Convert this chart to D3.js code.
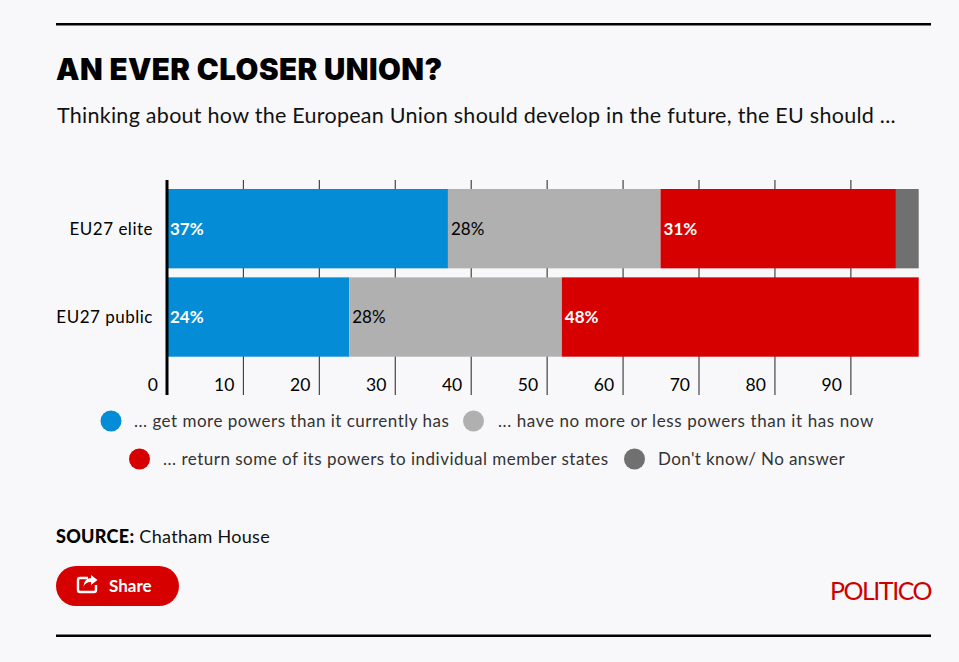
<!DOCTYPE html>
<html>
<head>
<meta charset="utf-8">
<script src="https://cdn.jsdelivr.net/npm/d3@7"></script>
<style>
html, body { margin: 0; padding: 0; background: #f8f8fa; }
svg { display: block; font-family: Lato, sans-serif; }
</style>
</head>
<body>
<div id="chart"></div>
<script>
// Data
const categories = ["EU27 elite", "EU27 public"];
const answers = ["more", "same", "return", "dontKnow"];
const moreValues = [37, 24];
const sameValues = [28, 28];
const returnValues = [31, 48];
const dontKnowValues = [3, 0];
const tickValues = [10, 20, 30, 40, 50, 60, 70, 80, 90];
const answerColors = ["#058cd6", "#b0b0b0", "#d60000", "#707070"];
const labelColors = ["#fff", "#000", "#fff", "none"];
const legendLabels = [
    "... get more powers than it currently has",
    "... have no more or less powers than it has now",
    "... return some of its powers to individual member states",
    "Don't know/ No answer"
];

const width = 959;
const height = 662;

const svg = d3.select("#chart").append("svg")
    .attr("width", width)
    .attr("height", height);

// the bars stop at 99 on the tick scale, even the row that adds up to 100
const x = d3.scaleLinear().domain([0, 99]).range([167, 918.7]).clamp(true);
const y = d3.scaleBand().domain(categories).range([189, 356.7]).paddingInner(0.102);

// Rules
svg.append("rect").attr("x", 56).attr("y", 23).attr("width", 875).attr("height", 2.5).attr("fill", "#000");
svg.append("rect").attr("x", 56).attr("y", 634.5).attr("width", 875).attr("height", 2.5).attr("fill", "#000");

// Heading
svg.append("text").attr("x", 56).attr("y", 80)
    .attr("font-family", "Inter, sans-serif")
    .attr("font-size", 29.5).attr("font-weight", 900).attr("fill", "#000")
    .attr("letter-spacing", 0.45)
    .text("AN EVER CLOSER UNION?");
svg.append("text").attr("x", 57).attr("y", 123)
    .attr("font-size", 21.5).attr("fill", "#111")
    .attr("letter-spacing", 0.27)
    .text("Thinking about how the European Union should develop in the future, the EU should ...");

// Ticks, behind the bars
const xAxis = d3.axisBottom(x).tickValues(tickValues).tickSize(215).tickSizeOuter(0);
const axisG = svg.append("g").attr("transform", "translate(0,180)").call(xAxis);
axisG.select(".domain").remove();
axisG.selectAll(".tick line").attr("stroke", "#444").attr("stroke-width", 1.2);
axisG.selectAll(".tick text")
    .attr("y", 211).attr("dy", 0).attr("x", -9)
    .attr("text-anchor", "end")
    .attr("font-family", "Lato, sans-serif")
    .attr("font-size", 17.5).attr("fill", "#000");

svg.append("text").attr("x", 158).attr("y", 391)
    .attr("text-anchor", "end").attr("font-size", 17.5).attr("fill", "#000")
    .text("0");

// Stacked bars
const rows = categories.map((c, i) => ({
    category: c,
    more: moreValues[i],
    same: sameValues[i],
    return: returnValues[i],
    dontKnow: dontKnowValues[i]
}));
const series = d3.stack().keys(answers)(rows);

const groups = svg.selectAll(".series").data(series).enter().append("g")
    .attr("class", "series");

groups.selectAll("rect")
    .data((d, i) => d.map(p => ({ p: p, i: i })))
    .enter().append("rect")
    .attr("x", d => x(d.p[0]))
    .attr("y", d => y(d.p.data.category))
    .attr("width", d => x(d.p[1]) - x(d.p[0]))
    .attr("height", y.bandwidth())
    .attr("fill", d => answerColors[d.i]);

groups.selectAll("text")
    .data((d, i) => d.map(p => ({ p: p, i: i })).filter(d => d.i < 3))
    .enter().append("text")
    .attr("x", d => x(d.p[0]) + 3)
    .attr("y", d => y(d.p.data.category) + y.bandwidth() / 2 + 6)
    .attr("font-size", 17)
    .attr("font-weight", d => d.i == 1 ? 400 : 700)
    .attr("fill", d => labelColors[d.i])
    .text(d => (d.p[1] - d.p[0]) + "%");

// Category labels
svg.selectAll(".cat").data(categories).enter().append("text")
    .attr("class", "cat")
    .attr("x", 153)
    .attr("y", d => y(d) + y.bandwidth() / 2 + 6)
    .attr("text-anchor", "end")
    .attr("font-size", 17).attr("fill", "#000")
    .attr("letter-spacing", 0.5)
    .text(d => d);

// Axis line on top
svg.append("line")
    .attr("x1", x(0)).attr("x2", x(0)).attr("y1", 180).attr("y2", 395)
    .attr("stroke", "#000").attr("stroke-width", 3);

// Legend
const legendX = [111, 473.5, 139.5, 634.5];
const legendTextX = [134, 498, 163, 658];
const legendY = [421, 421, 459, 459];
const legendSpacing = [0.5, 0.6, 0.5, 0.4];
const legend = svg.selectAll(".legend").data(legendLabels).enter().append("g")
    .attr("class", "legend");
legend.append("circle")
    .attr("cx", (d, i) => legendX[i]).attr("cy", (d, i) => legendY[i]).attr("r", 10.5)
    .attr("fill", (d, i) => answerColors[i]);
legend.append("text")
    .attr("x", (d, i) => legendTextX[i]).attr("y", (d, i) => legendY[i] + 5.5)
    .attr("font-size", 17).attr("fill", "#333")
    .attr("letter-spacing", (d, i) => legendSpacing[i])
    .text(d => d);

// Source
const source = svg.append("text").attr("x", 56).attr("y", 543)
    .attr("font-size", 18).attr("fill", "#111")
    .attr("letter-spacing", 0.3);
source.append("tspan").attr("font-weight", 900).attr("fill", "#000").text("SOURCE:");
source.append("tspan").text(" Chatham House");

// Share button
svg.append("rect").attr("x", 56).attr("y", 566).attr("width", 123).attr("height", 40).attr("rx", 20)
    .attr("fill", "#d60000");
svg.append("path")
    .attr("d", "M88 578 h-8 a2 2 0 0 0 -2 2 v10 a2 2 0 0 0 2 2 h14 a2 2 0 0 0 2 -2 v-5")
    .attr("fill", "none").attr("stroke", "#fff").attr("stroke-width", 2.4);
svg.append("path")
    .attr("d", "M91 575 l6.5 5 -6.5 5 v-3 c-4 0 -6 1.5 -7.5 4.5 c0.5 -5 3 -8.5 7.5 -8.5 z")
    .attr("fill", "#fff");
svg.append("text").attr("x", 109).attr("y", 591.5)
    .attr("font-size", 17).attr("font-weight", 700).attr("fill", "#fff")
    .text("Share");

// Logo
svg.append("text").attr("x", 931).attr("y", 600)
    .attr("text-anchor", "end")
    .attr("font-size", 25).attr("fill", "#cc0000")
    .attr("letter-spacing", -1.5)
    .text("POLITICO");
</script>
</body>
</html>
